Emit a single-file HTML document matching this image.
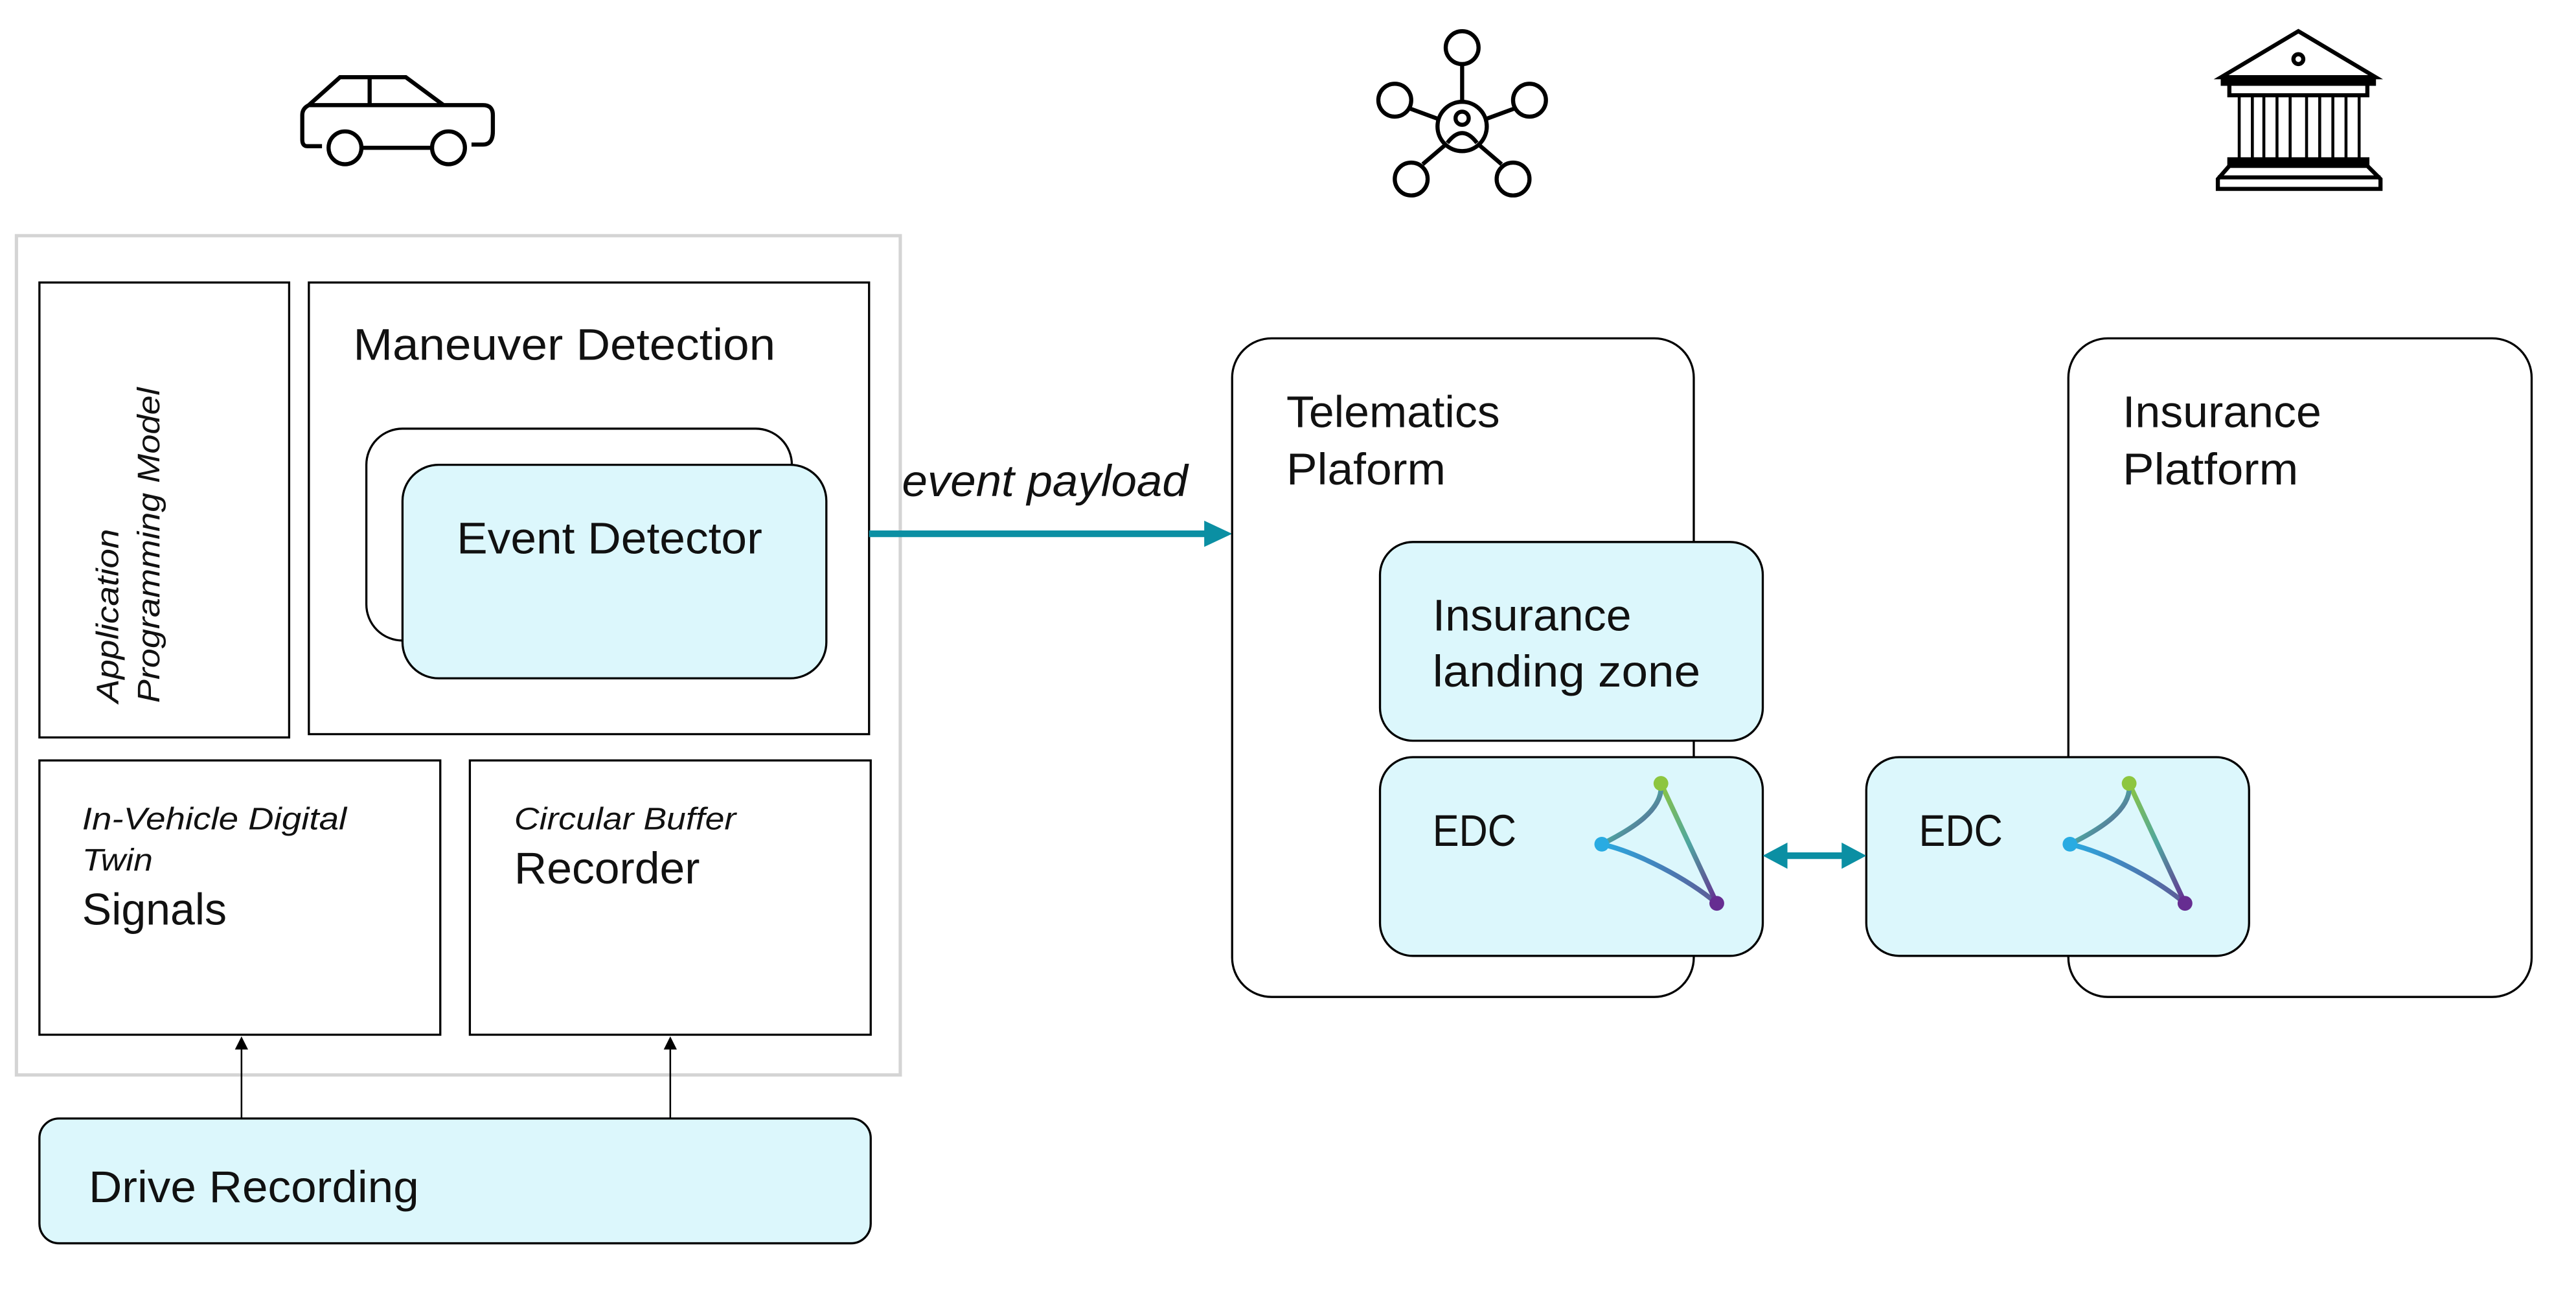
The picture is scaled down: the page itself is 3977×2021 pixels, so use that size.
<!DOCTYPE html>
<html><head><meta charset="utf-8"><style>html,body{margin:0;padding:0;background:#fff}svg{display:block}text{font-family:"Liberation Sans",sans-serif;fill:#111}</style></head>
<body>
<svg width="3977" height="2021" viewBox="0 0 1568 797" preserveAspectRatio="none" xmlns="http://www.w3.org/2000/svg">
<defs>
<linearGradient id="g1" x1="0" y1="0" x2="1" y2="1"><stop offset="0" stop-color="#8dc63f"/><stop offset="0.5" stop-color="#4ea6a0"/><stop offset="1" stop-color="#662d91"/></linearGradient>
<linearGradient id="g2" x1="0" y1="0" x2="1" y2="0"><stop offset="0" stop-color="#29abe2"/><stop offset="1" stop-color="#5f5a95"/></linearGradient>
<marker id="ah" markerWidth="8" markerHeight="8" refX="7" refY="4" orient="auto" markerUnits="userSpaceOnUse"><path d="M0,0 L8,4 L0,8z" fill="#000"/></marker>
<g id="edc">
<path d="M0,0 C2,16 -18,28 -36,37 C-14,42 16,58 34,73" fill="none" stroke="url(#g2)" stroke-width="3"/>
<path d="M0,0 L34,73" stroke="url(#g1)" stroke-width="3"/>
<path d="M0,0 C2,16 -18,28 -36,37" fill="none" stroke="url(#g1)" stroke-width="3"/>
<circle cx="0" cy="0" r="4.5" fill="#8dc63f"/><circle cx="-36" cy="37" r="4.5" fill="#29abe2"/><circle cx="34" cy="73" r="4.5" fill="#662d91"/>
</g>
</defs>
<g fill="none" stroke="#000" stroke-width="2.5">
<path d="M196,89 H187 Q184,89 184,85 V70 Q184,66 188,64 L207,47 H247 L270,64 H294 Q300,64 300,70 V80 Q300,88 294,88 H287"/>
<line x1="225" y1="47" x2="225" y2="64"/><line x1="188" y1="64" x2="270" y2="64"/>
<circle cx="210" cy="90" r="10"/><circle cx="273" cy="90" r="10"/><line x1="220" y1="90" x2="263" y2="90"/>
</g>
<g fill="#fff" stroke="#000" stroke-width="2.5">
<line x1="890" y1="40" x2="890" y2="63"/><line x1="858" y1="66" x2="877" y2="73"/><line x1="922" y1="66" x2="903" y2="73"/>
<line x1="866" y1="100" x2="880" y2="88"/><line x1="914" y1="100" x2="900" y2="88"/>
<circle cx="890" cy="77" r="15"/><circle cx="890" cy="72" r="4"/><path d="M881,87 Q890,75 899,87" fill="none"/>
<circle cx="890" cy="29" r="10"/><circle cx="849" cy="61" r="10"/><circle cx="931" cy="61" r="10"/><circle cx="859" cy="109" r="10"/><circle cx="921" cy="109" r="10"/>
</g>
<g fill="none" stroke="#000" stroke-width="2.5">
<path d="M1352,47 L1399,19 L1446,47 Z"/><circle cx="1399" cy="36" r="3"/>
<rect x="1353" y="48" width="92" height="3" fill="#000"/>
<rect x="1357" y="51" width="84" height="7"/>
<path d="M1363,58 V97 M1371,58 V97 M1378,58 V97 M1386,58 V97 M1394,58 V97 M1404,58 V97 M1412,58 V97 M1420,58 V97 M1428,58 V97 M1436,58 V97" stroke-width="1.8"/>
<rect x="1357" y="97" width="84" height="4" fill="#000"/>
<path d="M1357,101 L1350,109 V115 H1449 V109 L1441,101"/><line x1="1350" y1="108" x2="1449" y2="108"/>
</g>
<rect x="10" y="143.5" width="538" height="511" fill="none" stroke="#d4d4d4" stroke-width="2"/>
<rect x="24" y="172" width="152" height="277" fill="none" stroke="#000" stroke-width="1.3"/>
<text transform="translate(72,428) rotate(-90)" font-size="19" font-style="italic" textLength="106" lengthAdjust="spacingAndGlyphs">Application</text>
<text transform="translate(97,428) rotate(-90)" font-size="19" font-style="italic" textLength="192" lengthAdjust="spacingAndGlyphs">Programming Model</text>
<rect x="188" y="172" width="341" height="275" fill="none" stroke="#000" stroke-width="1.3"/>
<text x="215" y="219" font-size="27" textLength="257" lengthAdjust="spacingAndGlyphs">Maneuver Detection</text>
<rect x="223" y="261" width="259" height="129" rx="22" fill="#fff" stroke="#000" stroke-width="1.3"/>
<rect x="245" y="283" width="258" height="130" rx="22" fill="#dcf7fc" stroke="#000" stroke-width="1.3"/>
<text x="278" y="337" font-size="27" textLength="186" lengthAdjust="spacingAndGlyphs">Event Detector</text>
<rect x="24" y="463" width="244" height="167" fill="none" stroke="#000" stroke-width="1.3"/>
<text x="50" y="505" font-size="19" font-style="italic" textLength="161" lengthAdjust="spacingAndGlyphs">In-Vehicle Digital</text>
<text x="50" y="530" font-size="19" font-style="italic" textLength="43" lengthAdjust="spacingAndGlyphs">Twin</text>
<text x="50" y="563" font-size="27" textLength="88" lengthAdjust="spacingAndGlyphs">Signals</text>
<rect x="286" y="463" width="244" height="167" fill="none" stroke="#000" stroke-width="1.3"/>
<text x="313" y="505" font-size="19" font-style="italic" textLength="135" lengthAdjust="spacingAndGlyphs">Circular Buffer</text>
<text x="313" y="538" font-size="27" textLength="113" lengthAdjust="spacingAndGlyphs">Recorder</text>
<line x1="147" y1="681" x2="147" y2="632" stroke="#000" stroke-width="1" marker-end="url(#ah)"/>
<line x1="408" y1="681" x2="408" y2="632" stroke="#000" stroke-width="1" marker-end="url(#ah)"/>
<rect x="24" y="681" width="506" height="76" rx="12" fill="#dcf7fc" stroke="#000" stroke-width="1.3"/>
<text x="54" y="732" font-size="27" textLength="201" lengthAdjust="spacingAndGlyphs">Drive Recording</text>
<line x1="529" y1="325" x2="737" y2="325" stroke="#0b8fa3" stroke-width="4"/>
<path d="M750,325 L733,317 L733,333 Z" fill="#0b8fa3"/>
<text x="549" y="302" font-size="27" font-style="italic" textLength="174" lengthAdjust="spacingAndGlyphs">event payload</text>
<rect x="750" y="206" width="281" height="401" rx="24" fill="#fff" stroke="#000" stroke-width="1.3"/>
<text x="783" y="260" font-size="27" textLength="130" lengthAdjust="spacingAndGlyphs">Telematics</text>
<text x="783" y="295" font-size="27" textLength="97" lengthAdjust="spacingAndGlyphs">Plaform</text>
<rect x="840" y="330" width="233" height="121" rx="20" fill="#dcf7fc" stroke="#000" stroke-width="1.3"/>
<text x="872" y="384" font-size="27" textLength="121" lengthAdjust="spacingAndGlyphs">Insurance</text>
<text x="872" y="418" font-size="27" textLength="163" lengthAdjust="spacingAndGlyphs">landing zone</text>
<rect x="840" y="461" width="233" height="121" rx="20" fill="#dcf7fc" stroke="#000" stroke-width="1.3"/>
<text x="872" y="515" font-size="27" textLength="51" lengthAdjust="spacingAndGlyphs">EDC</text>
<use href="#edc" x="1011" y="477"/>
<rect x="1259" y="206" width="282" height="401" rx="24" fill="#fff" stroke="#000" stroke-width="1.3"/>
<text x="1292" y="260" font-size="27" textLength="121" lengthAdjust="spacingAndGlyphs">Insurance</text>
<text x="1292" y="295" font-size="27" textLength="107" lengthAdjust="spacingAndGlyphs">Platform</text>
<rect x="1136" y="461" width="233" height="121" rx="20" fill="#dcf7fc" stroke="#000" stroke-width="1.3"/>
<text x="1168" y="515" font-size="27" textLength="51" lengthAdjust="spacingAndGlyphs">EDC</text>
<use href="#edc" x="1296" y="477"/>
<line x1="1085" y1="521" x2="1124" y2="521" stroke="#0b8fa3" stroke-width="4"/>
<path d="M1073,521 L1088,513 L1088,529 Z M1136,521 L1121,513 L1121,529 Z" fill="#0b8fa3"/>
</svg>
</body></html>
